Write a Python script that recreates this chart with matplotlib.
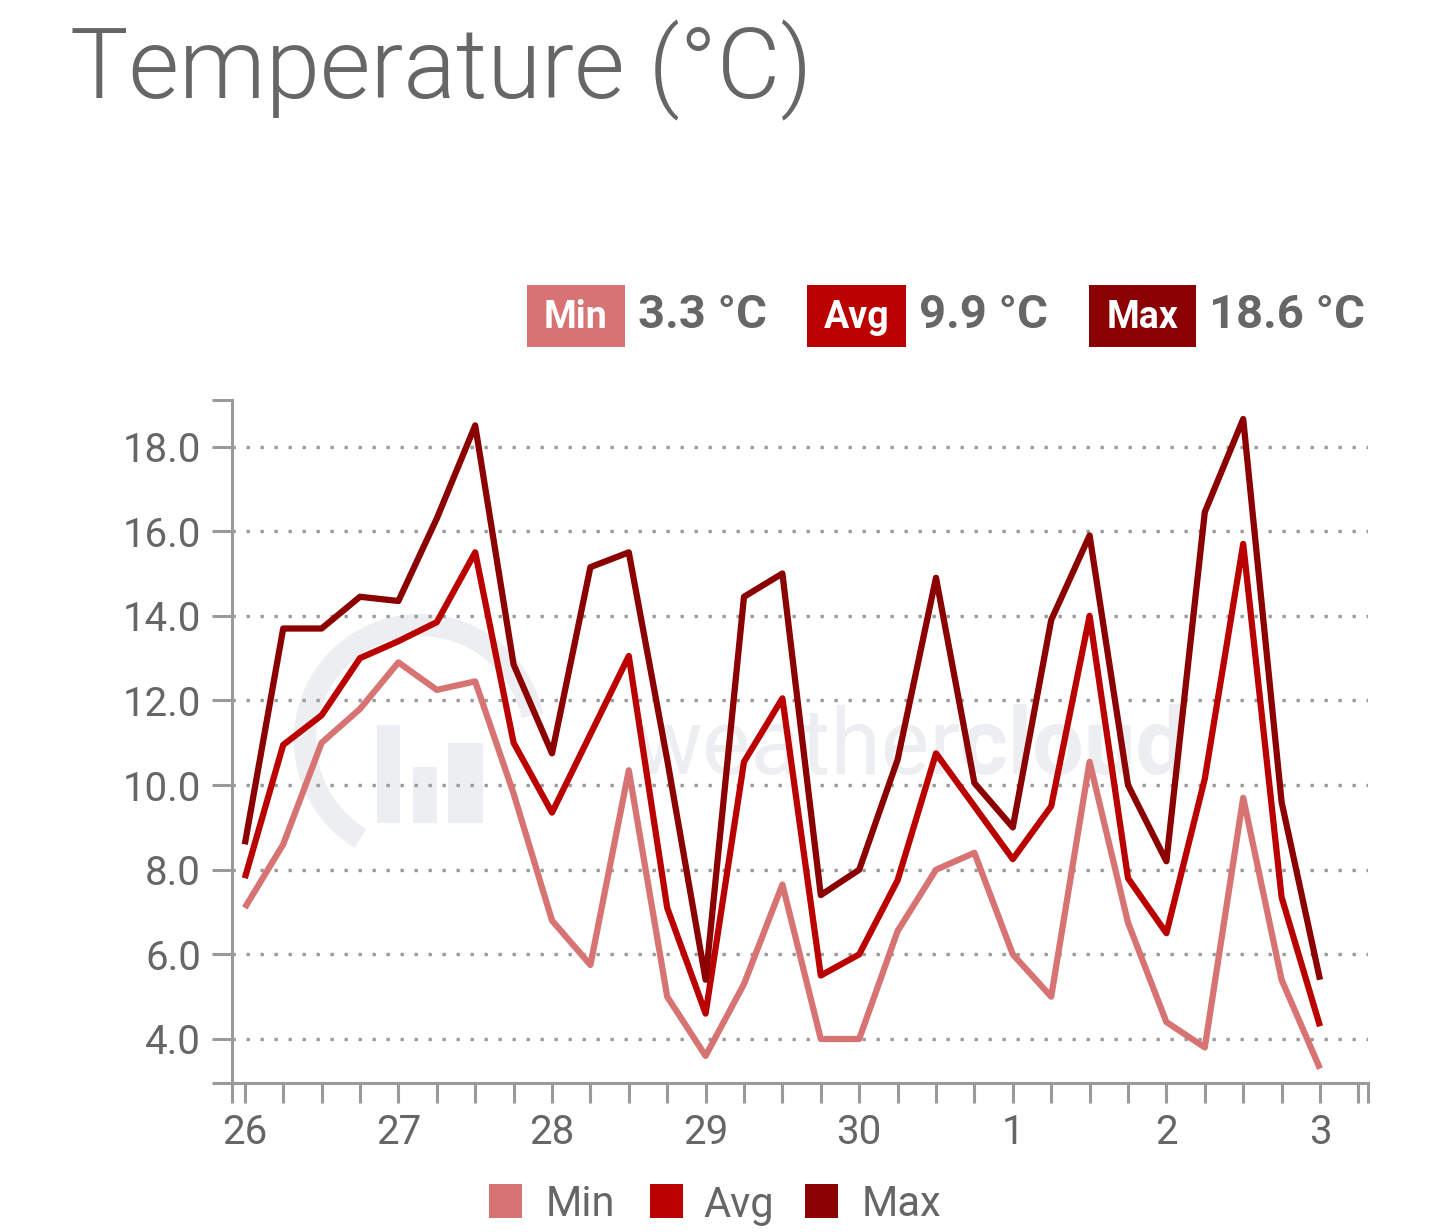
import numpy as np
import matplotlib.pyplot as plt
from matplotlib.patches import Rectangle, Arc

# readings every 6 hours, 26th 00:00 -> 3rd 00:00
days = ['26', '27', '28', '29', '30', '1', '2', '3']
hours = np.arange(29) * 6

t_min = [7.1, 8.6, 11.0, 11.8, 12.9, 12.25, 12.45, 9.8, 6.8, 5.75, 10.35, 5.0, 3.6, 5.3, 7.65,
         4.0, 4.0, 6.55, 8.0, 8.4, 6.0, 5.0, 10.55, 6.75, 4.4, 3.8, 9.7, 5.4, 3.3]
t_avg = [7.8, 10.95, 11.65, 13.0, 13.4, 13.85, 15.5, 11.0, 9.35, 11.2, 13.05, 7.1, 4.6, 10.55, 12.05,
         5.5, 6.0, 7.75, 10.75, 9.5, 8.25, 9.5, 14.0, 7.8, 6.5, 10.15, 15.7, 7.35, 4.3]
t_max = [8.6, 13.7, 13.7, 14.45, 14.35, 16.3, 18.5, 12.85, 10.75, 15.15, 15.5, 10.6, 5.4, 14.45, 15.0,
         7.4, 8.0, 10.6, 14.9, 10.05, 9.0, 13.9, 15.9, 10.0, 8.2, 16.45, 18.65, 9.6, 5.4]

stat_labels = ['Min', 'Avg', 'Max']
stat_values = [3.3, 9.9, 18.6]
colors = ['#d77373', '#bb0000', '#8b0000']

grey = '#666666'
axis_grey = '#9a9a9a'
plt.rcParams['font.family'] = ['Roboto', 'DejaVu Sans']

fig = plt.figure(figsize=(14.39, 12.32), dpi=100)
ax = fig.add_axes([232 / 1439, 149 / 1232, 1136 / 1439, 683 / 1232])

x0, x1 = -2, 168 + 7.5
y0, y1 = 2.96, 19.1
ax.set_xlim(x0, x1)
ax.set_ylim(y0, y1)

# watermark
wm = '#eceef2'
ax.text(0.641, 0.49, 'weather', transform=ax.transAxes, ha='right', va='center',
        fontsize=66, color=wm, fontweight='normal', zorder=0)
ax.text(0.641, 0.49, 'cloud', transform=ax.transAxes, ha='left', va='center',
        fontsize=66, color=wm, fontweight='bold', zorder=0)
for bx, bw, btop in [(377, 23, 725), (413, 24, 767), (448, 35, 743)]:
    ax.add_patch(Rectangle(((bx - 232) / 1136, (1083 - 823) / 683), bw / 1136, (823 - btop) / 683,
                           transform=ax.transAxes, color=wm, lw=0, zorder=0))
ax.add_patch(Arc(((420 - 232) / 1136, (1083 - 740) / 683), 230 / 1136, 230 / 683,
                 theta1=20, theta2=250, transform=ax.transAxes, color=wm, lw=16, zorder=0))

for vals, c in zip([t_min, t_avg, t_max], colors):
    ax.plot(hours, vals, color=c, lw=4.5, solid_joinstyle='round', solid_capstyle='butt', zorder=3)

# axes styling
for s in ['top', 'right']:
    ax.spines[s].set_visible(False)
for s in ['left', 'bottom']:
    ax.spines[s].set_color(axis_grey)
    ax.spines[s].set_linewidth(2.2)

yt = np.arange(4, 19, 2)
ax.set_yticks(list(yt) + [y0, y1])
ax.set_yticklabels(['%.1f' % v for v in yt] + ['', ''])
ax.set_xticks(list(np.arange(0, 175, 6)) + [x0, x1])
xl = []
for h in np.arange(0, 175, 6):
    xl.append(days[h // 24] if h % 24 == 0 else '')
ax.set_xticklabels(xl + ['', ''])
ax.tick_params(axis='both', length=14.5, width=2.2, color=axis_grey, labelsize=29, labelcolor=grey)
ax.tick_params(axis='y', pad=8)
ax.tick_params(axis='x', pad=7)

for v in yt:
    ax.axhline(v, color=axis_grey, lw=2.4, ls=(0, (1, 3.2)), zorder=1)

# title
fig.text(70 / 1439, 1 - 70 / 1232, 'Temperature (°C)', fontsize=70.5, color=grey,
         fontweight=300, va='center', ha='left')

# summary badges
badge_x = [527, 807, 1089]
badge_w = [98, 99, 107]
for lab, val, c, bx, bw in zip(stat_labels, stat_values, colors, badge_x, badge_w):
    fig.patches.append(Rectangle((bx / 1439, 1 - 347 / 1232), bw / 1439, 62 / 1232,
                                 transform=fig.transFigure, color=c, lw=0))
    fig.text((bx + bw / 2) / 1439, 1 - 317 / 1232, lab, color='white', fontsize=27,
             fontweight='bold', ha='center', va='center')
    fig.text((bx + bw + 13) / 1439, 1 - 315 / 1232, '%.1f °C' % val, color=grey, fontsize=34,
             fontweight='bold', ha='left', va='center')

# bottom legend
sq_x = [489, 650, 805]
txt_x = [546, 703, 862]
for lab, c, sx, tx in zip(stat_labels, colors, sq_x, txt_x):
    fig.patches.append(Rectangle((sx / 1439, 1 - 1218 / 1232), 33 / 1439, 34 / 1232,
                                 transform=fig.transFigure, color=c, lw=0))
    fig.text(tx / 1439, 1 - 1205 / 1232, lab, color=grey, fontsize=30, ha='left', va='center')

fig.savefig('out.png', dpi=100, facecolor='white')
